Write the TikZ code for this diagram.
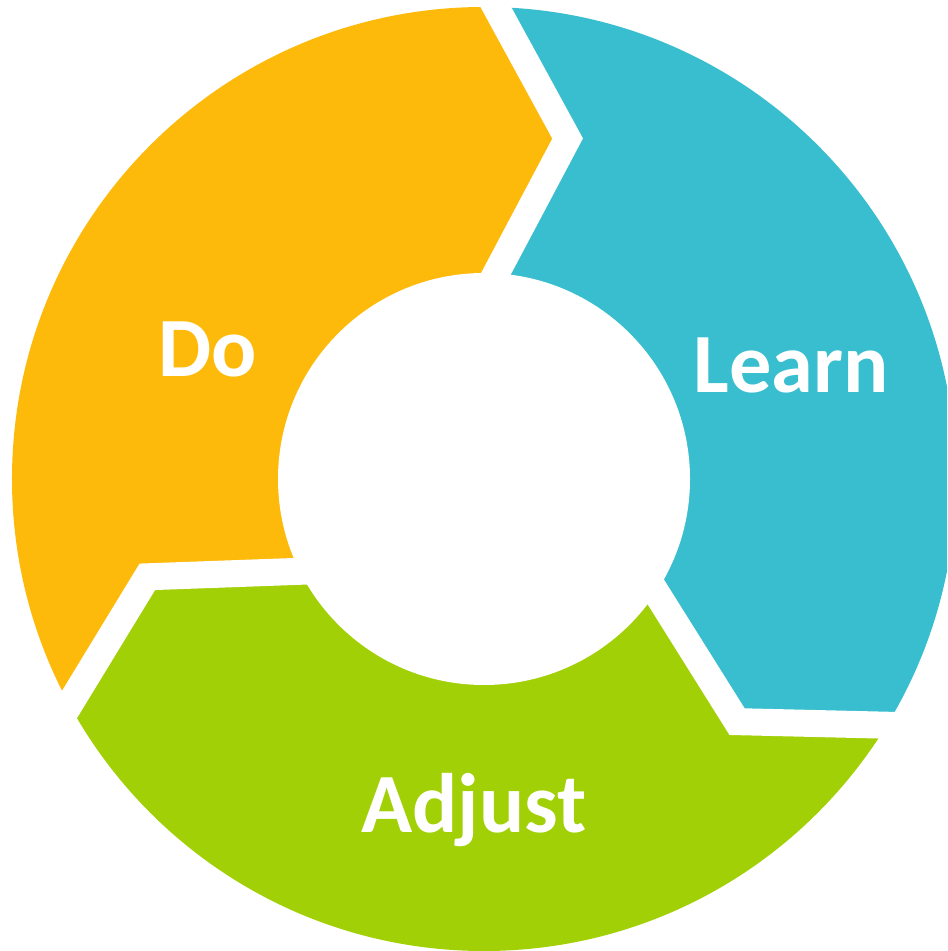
\documentclass[tikz,border=0pt]{standalone}
\usepackage{fontspec}
\setmainfont{Carlito}
\usepackage{tikz}
\definecolor{DoOrange}{RGB}{253,186,11}
\definecolor{LearnTeal}{RGB}{56,190,206}
\definecolor{AdjustGreen}{RGB}{162,208,6}
\tikzstyle{gap} = [draw=white, line width=2.7mm, line join=miter]
\tikzstyle{stage} = [text=white, font=\bfseries\fontsize{24}{28}\selectfont, anchor=base, inner sep=0pt]

\begin{document}
\begin{tikzpicture}
	\clip (-4.84, -4.72) rectangle (4.63, 4.79);

	\begin{scope}
		\clip (0, 0) circle (4.72);
		\fill [DoOrange] (0, 0) -- (92.3:1.7) -- (76.2:3.506) -- (91:5.1) -- (150:7.5) -- (211:5.1) -- (196.2:3.506) -- (212.3:1.7) -- cycle;
		\fill [LearnTeal, rotate=-120] (0, 0) -- (92.3:1.7) -- (76.2:3.506) -- (91:5.1) -- (150:7.5) -- (211:5.1) -- (196.2:3.506) -- (212.3:1.7) -- cycle;
		\fill [AdjustGreen, rotate=120] (0, 0) -- (92.3:1.7) -- (76.2:3.506) -- (91:5.1) -- (150:7.5) -- (211:5.1) -- (196.2:3.506) -- (212.3:1.7) -- cycle;
	\end{scope}

	\fill [white] (0, 0) circle (2.06);

	\draw [gap] (91:5.1) -- (76.2:3.506) -- (92.3:1.7);
	\draw [gap, rotate=-120] (91:5.1) -- (76.2:3.506) -- (92.3:1.7);
	\draw [gap, rotate=120] (91:5.1) -- (76.2:3.506) -- (92.3:1.7);

	\node (Do) [stage] at (-2.76, 1.02) {Do};
	\node (Learn) [stage] at (3.07, 0.865) {Learn};
	\node (Adjust) [stage] at (-0.10, -3.54) {Adjust};
\end{tikzpicture}
\end{document}
